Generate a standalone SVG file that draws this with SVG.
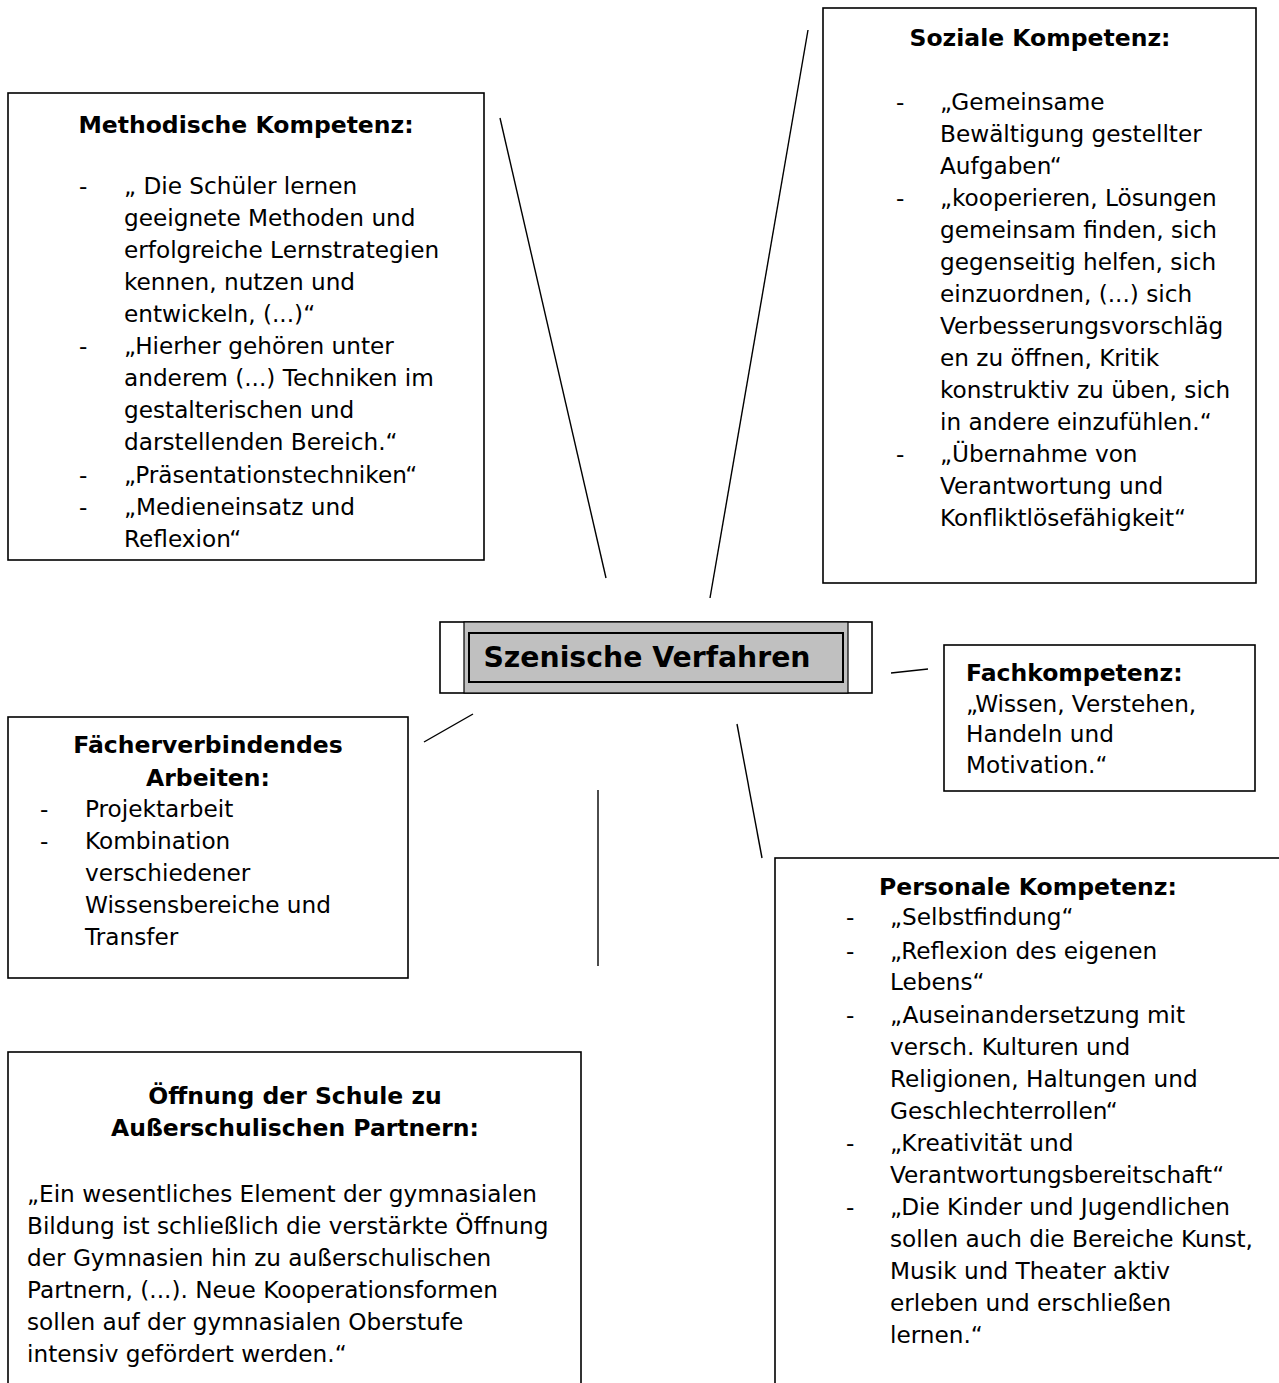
<svg xmlns="http://www.w3.org/2000/svg" width="1279" height="1383" viewBox="0 0 1279 1383">
<style>
.box{fill:#fff;stroke:#000;stroke-width:1.6}
.ln{stroke:#000;stroke-width:1.4;fill:none}
text{font-family:"DejaVu Sans",Verdana,sans-serif;fill:#000}
.t{font-size:23.5px;font-weight:bold}
.b{font-size:23.2px}
.c{text-anchor:middle}
</style>
<rect width="1279" height="1383" fill="#fff"/>
<g id="connectors">
<line class="ln" x1="500" y1="118" x2="606" y2="578"/>
<line class="ln" x1="808" y1="30" x2="710" y2="598"/>
<line class="ln" x1="891" y1="673" x2="928" y2="669"/>
<line class="ln" x1="424" y1="742" x2="473" y2="714"/>
<line class="ln" x1="598" y1="790" x2="598" y2="966"/>
<line class="ln" x1="737" y1="724" x2="762" y2="858"/>
</g>
<g id="methodische">
<rect class="box" x="8" y="93" width="476" height="467"/>
<text class="t c" x="246" y="133">Methodische Kompetenz:</text>
<g class="b">
<text x="79" y="194">-</text><text x="124" y="194">„ Die Schüler lernen</text>
<text x="124" y="226">geeignete Methoden und</text>
<text x="124" y="258">erfolgreiche Lernstrategien</text>
<text x="124" y="290">kennen, nutzen und</text>
<text x="124" y="322">entwickeln, (...)“</text>
<text x="79" y="354">-</text><text x="124" y="354">„Hierher gehören unter</text>
<text x="124" y="386">anderem (...) Techniken im</text>
<text x="124" y="418">gestalterischen und</text>
<text x="124" y="450">darstellenden Bereich.“</text>
<text x="79" y="483">-</text><text x="124" y="483">„Präsentationstechniken“</text>
<text x="79" y="515">-</text><text x="124" y="515">„Medieneinsatz und</text>
<text x="124" y="547">Reflexion“</text>
</g>
</g>
<g id="soziale">
<rect class="box" x="823" y="8" width="433" height="575"/>
<text class="t c" x="1040" y="46">Soziale Kompetenz:</text>
<g class="b">
<text x="896" y="110">-</text><text x="940" y="110">„Gemeinsame</text>
<text x="940" y="142">Bewältigung gestellter</text>
<text x="940" y="174">Aufgaben“</text>
<text x="896" y="206">-</text><text x="940" y="206">„kooperieren, Lösungen</text>
<text x="940" y="238">gemeinsam finden, sich</text>
<text x="940" y="270">gegenseitig helfen, sich</text>
<text x="940" y="302">einzuordnen, (...) sich</text>
<text x="940" y="334">Verbesserungsvorschläg</text>
<text x="940" y="366">en zu öffnen, Kritik</text>
<text x="940" y="398">konstruktiv zu üben, sich</text>
<text x="940" y="430">in andere einzufühlen.“</text>
<text x="896" y="462">-</text><text x="940" y="462">„Übernahme von</text>
<text x="940" y="494">Verantwortung und</text>
<text x="940" y="526">Konfliktlösefähigkeit“</text>
</g>
</g>
<g id="center">
<rect x="440" y="622" width="432" height="71" fill="#fff" stroke="#000" stroke-width="1.6"/>
<rect x="464" y="622" width="384" height="71" fill="#c0c0c0" stroke="#000" stroke-width="1.2"/>
<rect x="469" y="633" width="374" height="49" fill="none" stroke="#000" stroke-width="2"/>
<text x="647" y="667" class="c" style="font-size:28.3px;font-weight:bold">Szenische Verfahren</text>
</g>
<g id="fach">
<rect class="box" x="944" y="645" width="311" height="146"/>
<text class="t" x="966" y="681">Fachkompetenz:</text>
<g class="b">
<text x="966" y="712">„Wissen, Verstehen,</text>
<text x="966" y="742">Handeln und</text>
<text x="966" y="773">Motivation.“</text>
</g>
</g>
<g id="faecher">
<rect class="box" x="8" y="717" width="400" height="261"/>
<text class="t c" x="208" y="753">Fächerverbindendes</text>
<text class="t c" x="208" y="786">Arbeiten:</text>
<g class="b">
<text x="40" y="817">-</text><text x="85" y="817">Projektarbeit</text>
<text x="40" y="849">-</text><text x="85" y="849">Kombination</text>
<text x="85" y="881">verschiedener</text>
<text x="85" y="913">Wissensbereiche und</text>
<text x="85" y="945">Transfer</text>
</g>
</g>
<g id="oeffnung">
<rect class="box" x="8" y="1052" width="573" height="360"/>
<text class="t c" x="295" y="1104">Öffnung der Schule zu</text>
<text class="t c" x="295" y="1136">Außerschulischen Partnern:</text>
<g class="b">
<text x="27" y="1202">„Ein wesentliches Element der gymnasialen</text>
<text x="27" y="1234">Bildung ist schließlich die verstärkte Öffnung</text>
<text x="27" y="1266">der Gymnasien hin zu außerschulischen</text>
<text x="27" y="1298">Partnern, (...). Neue Kooperationsformen</text>
<text x="27" y="1330">sollen auf der gymnasialen Oberstufe</text>
<text x="27" y="1362">intensiv gefördert werden.“</text>
</g>
</g>
<g id="personale">
<rect class="box" x="775" y="858" width="530" height="560"/>
<text class="t c" x="1028" y="895">Personale Kompetenz:</text>
<g class="b">
<text x="846" y="925">-</text><text x="890" y="925">„Selbstfindung“</text>
<text x="846" y="959">-</text><text x="890" y="959">„Reflexion des eigenen</text>
<text x="890" y="990">Lebens“</text>
<text x="846" y="1023">-</text><text x="890" y="1023">„Auseinandersetzung mit</text>
<text x="890" y="1055">versch. Kulturen und</text>
<text x="890" y="1087">Religionen, Haltungen und</text>
<text x="890" y="1119">Geschlechterrollen“</text>
<text x="846" y="1151">-</text><text x="890" y="1151">„Kreativität und</text>
<text x="890" y="1183">Verantwortungsbereitschaft“</text>
<text x="846" y="1215">-</text><text x="890" y="1215">„Die Kinder und Jugendlichen</text>
<text x="890" y="1247">sollen auch die Bereiche Kunst,</text>
<text x="890" y="1279">Musik und Theater aktiv</text>
<text x="890" y="1311">erleben und erschließen</text>
<text x="890" y="1343">lernen.“</text>
</g>
</g>
</svg>
